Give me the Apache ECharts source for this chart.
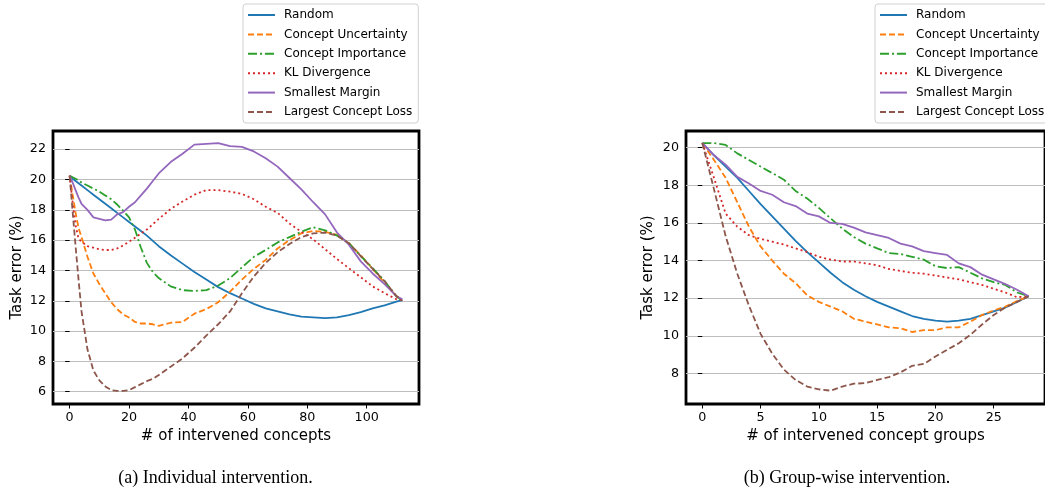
<!DOCTYPE html>
<html>
<head>
<meta charset="utf-8">
<script src="https://cdn.jsdelivr.net/npm/echarts@6.0.0/dist/echarts.min.js"></script>
<style>
html, body { margin: 0; padding: 0; background: #fff; }
#main { width: 1045px; height: 493px; }
</style>
</head>
<body>
<div id="main"></div>
<script>
// 曲线名称
var names = ['Random', 'Concept Uncertainty', 'Concept Importance', 'KL Divergence', 'Smallest Margin', 'Largest Concept Loss'];

// (a) Individual intervention
var xsA = [0, 1, 2, 3, 4, 6, 8, 10, 12, 14, 16, 18, 20, 22, 24, 26, 28, 30, 34, 38, 42, 46, 50, 54, 58, 62, 66, 70, 74, 78, 82, 86, 90, 94, 98, 102, 106, 110, 112];
var randomA      = [20.25, 20.05, 19.9, 19.75, 19.6, 19.3, 19.0, 18.7, 18.4, 18.1, 17.8, 17.5, 17.2, 16.9, 16.6, 16.3, 15.95, 15.6, 15.0, 14.45, 13.9, 13.4, 12.9, 12.5, 12.15, 11.8, 11.5, 11.3, 11.1, 10.95, 10.9, 10.85, 10.9, 11.05, 11.25, 11.5, 11.7, 11.95, 12.05];
var uncertaintyA = [20.25, 19.0, 17.8, 16.8, 16.2, 14.9, 13.8, 13.1, 12.5, 11.9, 11.45, 11.1, 10.9, 10.6, 10.5, 10.5, 10.45, 10.35, 10.55, 10.6, 11.15, 11.45, 11.9, 12.6, 13.4, 14.1, 14.7, 15.45, 16.0, 16.45, 16.6, 16.55, 16.35, 15.8, 15.0, 14.1, 13.2, 12.3, 12.05];
var importanceA  = [20.25, 20.15, 20.05, 19.95, 19.8, 19.6, 19.4, 19.2, 18.95, 18.7, 18.35, 17.95, 17.5, 16.7, 15.5, 14.5, 13.9, 13.5, 12.95, 12.7, 12.65, 12.7, 13.0, 13.5, 14.2, 14.9, 15.35, 15.85, 16.2, 16.55, 16.85, 16.65, 16.3, 15.8, 14.95, 14.15, 13.3, 12.3, 12.0];
var klA          = [20.25, 18.5, 17.0, 16.1, 15.9, 15.6, 15.5, 15.4, 15.35, 15.35, 15.45, 15.65, 15.9, 16.15, 16.45, 16.7, 17.05, 17.4, 18.05, 18.55, 19.0, 19.3, 19.3, 19.2, 19.05, 18.7, 18.2, 17.8, 17.1, 16.55, 16.05, 15.4, 14.75, 14.15, 13.55, 12.95, 12.5, 12.1, 12.05];
var marginA      = [20.25, 19.8, 19.3, 18.8, 18.4, 18.0, 17.5, 17.4, 17.3, 17.35, 17.7, 17.85, 18.2, 18.5, 18.95, 19.4, 19.9, 20.4, 21.15, 21.7, 22.3, 22.35, 22.4, 22.2, 22.15, 21.85, 21.4, 20.85, 20.1, 19.35, 18.5, 17.7, 16.5, 15.7, 14.6, 13.8, 13.1, 12.3, 12.1];
var lossA        = [20.25, 17.9, 15.6, 13.4, 11.3, 8.8, 7.4, 6.75, 6.35, 6.1, 6.05, 6.05, 6.1, 6.3, 6.5, 6.7, 6.85, 7.1, 7.65, 8.2, 8.9, 9.7, 10.45, 11.3, 12.5, 13.6, 14.5, 15.2, 15.75, 16.2, 16.45, 16.5, 16.3, 15.8, 14.95, 14.1, 13.3, 12.3, 12.0];

// (b) Group-wise intervention
var xsB = [0, 1, 2, 3, 4, 5, 6, 7, 8, 9, 10, 11, 12, 13, 14, 15, 16, 17, 18, 19, 20, 21, 22, 23, 24, 25, 26, 27, 28];
var randomB      = [20.25, 19.6, 19.0, 18.4, 17.7, 17.0, 16.35, 15.7, 15.05, 14.45, 13.9, 13.35, 12.85, 12.45, 12.1, 11.8, 11.55, 11.3, 11.05, 10.9, 10.8, 10.75, 10.8, 10.9, 11.1, 11.3, 11.5, 11.8, 12.1];
var uncertaintyB = [20.25, 19.35, 18.4, 17.1, 15.8, 14.75, 14.0, 13.3, 12.8, 12.15, 11.8, 11.55, 11.3, 10.9, 10.75, 10.6, 10.45, 10.4, 10.2, 10.3, 10.3, 10.45, 10.45, 10.75, 11.1, 11.35, 11.55, 11.85, 12.1];
var importanceB  = [20.25, 20.25, 20.15, 19.7, 19.35, 19.0, 18.65, 18.3, 17.7, 17.3, 16.8, 16.25, 15.7, 15.25, 14.9, 14.65, 14.4, 14.35, 14.2, 14.05, 13.7, 13.6, 13.65, 13.35, 13.05, 12.85, 12.7, 12.3, 12.1];
var klB          = [20.25, 18.4, 16.5, 15.8, 15.35, 15.15, 15.0, 14.85, 14.65, 14.45, 14.2, 14.05, 13.95, 13.95, 13.85, 13.75, 13.55, 13.45, 13.35, 13.3, 13.2, 13.1, 13.0, 12.85, 12.7, 12.5, 12.3, 12.05, 12.1];
var marginB      = [20.25, 19.6, 19.1, 18.45, 18.1, 17.7, 17.5, 17.1, 16.9, 16.5, 16.35, 16.0, 15.95, 15.75, 15.5, 15.35, 15.2, 14.9, 14.75, 14.5, 14.4, 14.3, 13.85, 13.65, 13.25, 13.0, 12.75, 12.45, 12.1];
var lossB        = [20.25, 17.8, 15.3, 13.3, 11.6, 10.1, 9.05, 8.2, 7.65, 7.3, 7.15, 7.08, 7.3, 7.45, 7.48, 7.65, 7.8, 8.05, 8.4, 8.5, 8.9, 9.25, 9.6, 10.05, 10.6, 11.1, 11.5, 11.8, 12.1];

// 刻度
var ticksXA = [0, 20, 40, 60, 80, 100];
var ticksYA = [6, 8, 10, 12, 14, 16, 18, 20, 22];
var ticksXB = [0, 5, 10, 15, 20, 25];
var ticksYB = [8, 10, 12, 14, 16, 18, 20];

// 样式 (matplotlib 默认配色)
var colors = ['#1f77b4', '#ff7f0e', '#2ca02c', '#d62728', '#9467bd', '#8c564b'];
var dashes = ['solid', [6, 3], [9, 3, 2, 3], [2, 3], 'solid', [6, 3]];

function pairs(xs, ys) {
    return xs.map(function (x, i) { return [x, ys[i]]; });
}

function makeSeries(idx, xs, lists) {
    return lists.map(function (ys, k) {
        return {
            name: names[k],
            type: 'line',
            xAxisIndex: idx,
            yAxisIndex: idx,
            data: pairs(xs, ys),
            symbol: 'none',
            smooth: false,
            lineStyle: { color: colors[k], width: 1.8, type: dashes[k], cap: 'butt' },
            itemStyle: { color: colors[k] }
        };
    });
}

var font = 'DejaVu Sans';

function xAxis(idx, min, max, ticks, name) {
    return {
        gridIndex: idx, type: 'value', min: min, max: max,
        axisLine: { show: false },
        axisTick: { show: true, length: 4.5, customValues: ticks, lineStyle: { color: '#000', width: 1 } },
        axisLabel: { customValues: ticks, color: '#000', fontSize: 12.7, fontFamily: font, margin: 7 },
        splitLine: { show: false },
        name: name, nameLocation: 'middle', nameGap: 23,
        nameTextStyle: { color: '#000', fontSize: 15, fontFamily: font }
    };
}

function yAxis(idx, min, max, ticks, gap) {
    return {
        gridIndex: idx, type: 'value', min: min, max: max,
        axisLine: { show: false },
        axisTick: { show: true, length: 4.5, customValues: ticks, lineStyle: { color: '#000', width: 1 } },
        axisLabel: { customValues: ticks, color: '#000', fontSize: 12.7, fontFamily: font, margin: 7 },
        splitLine: { show: true, lineStyle: { color: '#bdbdbd', width: 1 } },
        name: 'Task error (%)', nameLocation: 'middle', nameGap: gap,
        nameTextStyle: { color: '#000', fontSize: 15, fontFamily: font }
    };
}

// 图例: 只画线, 不画圆点
function legend(left) {
    return {
        orient: 'vertical', left: left, top: 4,
        padding: [5, 6, 5, 4],
        itemWidth: 27, itemHeight: 14, itemGap: 7.4,
        borderColor: '#d0d0d0', borderWidth: 1, borderRadius: 3,
        selectedMode: false,
        itemStyle: { opacity: 0, color: 'rgba(0,0,0,0)', borderWidth: 0 },
        textStyle: { color: '#000', fontSize: 12, fontFamily: font, padding: [0, 0, 0, 4] },
        data: names
    };
}

var myChart = echarts.init(document.getElementById('main'));

var option = {
    animation: false,
    backgroundColor: '#fff',
    legend: [legend(243), legend(875)],
    grid: [
        { left: 53, top: 131, width: 366, height: 273, show: true, borderColor: '#000', borderWidth: 2.8, backgroundColor: 'transparent' },
        { left: 686, top: 131, width: 366, height: 273, show: true, borderColor: '#000', borderWidth: 2.8, backgroundColor: 'transparent' }
    ],
    xAxis: [
        xAxis(0, -5.6, 117.6, ticksXA, '# of intervened concepts'),
        xAxis(1, -1.4, 29.4, ticksXB, '# of intervened concept groups')
    ],
    yAxis: [
        yAxis(0, 5.19, 23.2, ticksYA, 28),
        yAxis(1, 6.37, 20.89, ticksYB, 30)
    ],
    series: makeSeries(0, xsA, [randomA, uncertaintyA, importanceA, klA, marginA, lossA])
        .concat(makeSeries(1, xsB, [randomB, uncertaintyB, importanceB, klB, marginB, lossB])),
    graphic: [
        { type: 'text', x: 215.5, y: 478, style: { text: '(a) Individual intervention.', fill: '#000', fontSize: 18, fontFamily: 'Liberation Serif', align: 'center', verticalAlign: 'middle' } },
        { type: 'text', x: 847, y: 478, style: { text: '(b) Group-wise intervention.', fill: '#000', fontSize: 18, fontFamily: 'Liberation Serif', align: 'center', verticalAlign: 'middle' } }
    ]
};

myChart.setOption(option);
</script>
</body>
</html>
